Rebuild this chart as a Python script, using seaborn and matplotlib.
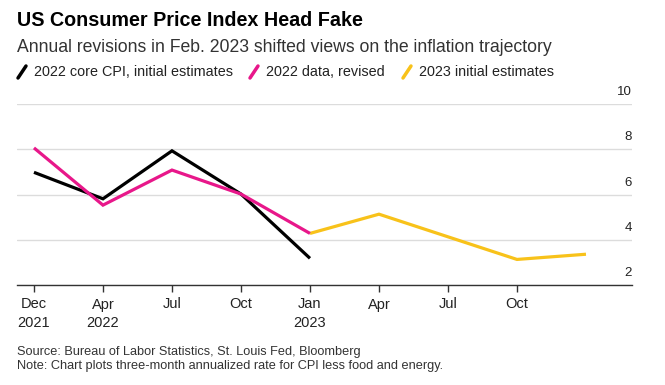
import matplotlib
matplotlib.use("Agg")
import matplotlib.pyplot as plt
import matplotlib.lines as mlines
import matplotlib.transforms as mtransforms
import seaborn as sns
import pandas as pd

sns.set_theme(style="white")
plt.rcParams['font.family'] = ['Liberation Sans', 'DejaVu Sans']

# ---- data ----
periods = ["Dec 2021", "Apr 2022", "Jul 2022", "Oct 2022", "Jan 2023",
           "Apr 2023", "Jul 2023", "Oct 2023", "Jan 2024"]
core_initial = [6.98, 5.81, 7.93, 6.02, 3.18]           # Dec 2021 .. Jan 2023
revised_2022 = [8.06, 5.53, 7.08, 6.02, 4.28]           # Dec 2021 .. Jan 2023
initial_2023 = [4.28, 5.13, 4.13, 3.13, 3.36]           # Jan 2023 .. Jan 2024
tick_labels = ["Dec\n2021", "Apr\n2022", "Jul", "Oct", "Jan\n2023", "Apr", "Jul", "Oct"]
y_ticks = [2, 4, 6, 8, 10]

series_names = ["2022 core CPI, initial estimates", "2022 data, revised", "2023 initial estimates"]
colors = ["#000000", "#e8178a", "#f8c21a"]

rows = []
for i, v in enumerate(core_initial):
    rows.append({"pos": i, "value": v, "series": series_names[0]})
for i, v in enumerate(revised_2022):
    rows.append({"pos": i, "value": v, "series": series_names[1]})
for i, v in enumerate(initial_2023):
    rows.append({"pos": i + 4, "value": v, "series": series_names[2]})
df = pd.DataFrame(rows)

W, H = 665, 385
fig = plt.figure(figsize=(W / 100, H / 100), dpi=100)
ax = fig.add_axes([17 / W, (H - 285) / H, (632 - 17) / W, (285 - 104) / H])

sns.lineplot(data=df, x="pos", y="value", hue="series",
             hue_order=[series_names[2], series_names[0], series_names[1]],
             palette={series_names[0]: colors[0], series_names[1]: colors[1],
                      series_names[2]: colors[2]},
             linewidth=2.3, legend=False, ax=ax, sort=False)
for line in ax.get_lines():
    line.set_solid_capstyle("butt")
    line.set_solid_joinstyle("miter")

ax.set_xlim(-0.246, 8.667)
ax.set_ylim(2, 10)
ax.set_xlabel("")
ax.set_ylabel("")

for s in ["top", "right", "left"]:
    ax.spines[s].set_visible(False)
ax.spines["bottom"].set_color("#333333")
ax.spines["bottom"].set_linewidth(1.0)

ax.set_yticks(y_ticks)
ax.yaxis.grid(True, color="#dcdcdc", linewidth=1.0)
ax.tick_params(axis="y", length=0, labelleft=False, labelright=False)
trans = mtransforms.blended_transform_factory(ax.transAxes, ax.transData)
offset = mtransforms.ScaledTranslation(0, 6 / 100, fig.dpi_scale_trans)
for t in y_ticks:
    ax.text(1.0, t, str(t), transform=trans + offset, ha="right", va="bottom",
            fontsize=9.5, color="#222222")

ax.set_xticks(range(len(tick_labels)))
ax.set_xticklabels(tick_labels, fontsize=10.5, color="#222222", linespacing=1.45)
ax.tick_params(axis="x", length=5, width=1, color="#333333", pad=4, bottom=True)

# title, subtitle
fig.text(17 / W, 1 - 20 / H, "US Consumer Price Index Head Fake", fontsize=14.2,
         fontweight="bold", color="#000000", va="center", ha="left")
fig.text(17 / W, 1 - 47 / H,
         "Annual revisions in Feb. 2023 shifted views on the inflation trajectory",
         fontsize=12.7, color="#333333", va="center", ha="left")

# legend with slash markers
leg_x = [17, 249, 402]
for x0, name, c in zip(leg_x, series_names, colors):
    fig.add_artist(mlines.Line2D([(x0 + 1) / W, (x0 + 9) / W],
                                 [1 - 78 / H, 1 - 66 / H],
                                 color=c, linewidth=2.5, transform=fig.transFigure))
    fig.text((x0 + 17) / W, 1 - 72 / H, name, fontsize=10.4, color="#222222",
             va="center", ha="left")

fig.text(17 / W, 1 - 352 / H, "Source: Bureau of Labor Statistics, St. Louis Fed, Bloomberg",
         fontsize=9.2, color="#333333", va="center", ha="left")
fig.text(17 / W, 1 - 366 / H,
         "Note: Chart plots three-month annualized rate for CPI less food and energy.",
         fontsize=9.2, color="#333333", va="center", ha="left")

fig.savefig("out.png", dpi=100)
